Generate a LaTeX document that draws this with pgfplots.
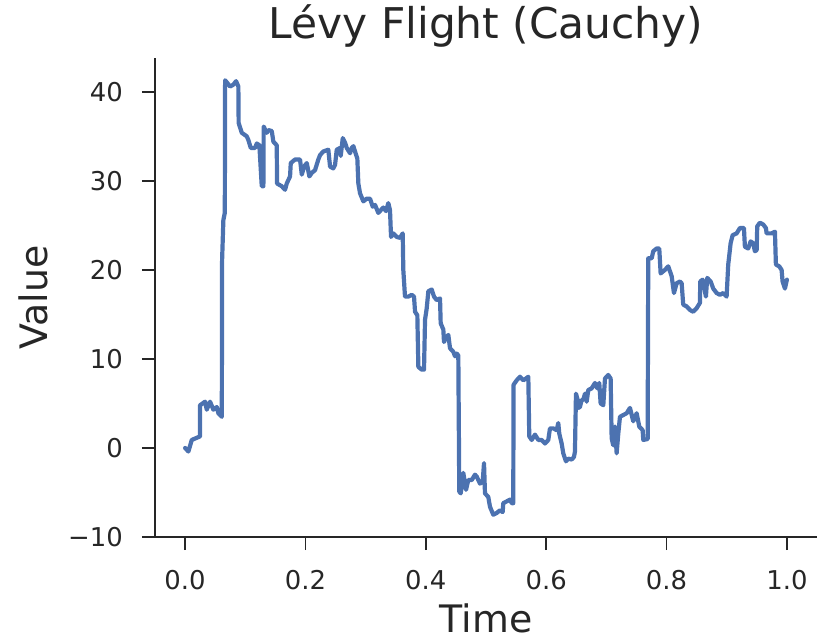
\documentclass[border=0pt]{standalone}
\usepackage{fontspec}
\setmainfont{DejaVu Sans}
\usepackage{pgfplots}
\pgfplotsset{compat=1.18}
\definecolor{sbblue}{HTML}{4C72B0}
\definecolor{txt}{HTML}{262626}
\begin{document}
\begin{tikzpicture}
\useasboundingbox (-155bp,-103bp) rectangle (666bp,537bp);
\begin{axis}[
  at={(0,0)}, anchor=south west,
  scale only axis, width=662bp, height=479bp,
  xmin=-0.05, xmax=1.05, ymin=-10, ymax=43.8,
  axis x line*=bottom, axis y line*=left,
  axis line style={-, line width=1.8bp, color=txt},
  xtick={0,0.2,0.4,0.6,0.8,1.0},
  xticklabels={0.0,0.2,0.4,0.6,0.8,1.0},
  ytick={-10,0,10,20,30,40},
  yticklabels={−10,0,10,20,30,40},
  tick align=outside, major tick length=13bp,
  tick style={line width=1.8bp, color=txt},
  minor tick num=0,
  ticklabel style={font=\fontsize{26}{30}\selectfont, text=txt, inner sep=0pt},
  xticklabel style={anchor=north, yshift=-20bp},
  yticklabel style={anchor=east, xshift=-19bp},
  title={Lévy Flight (Cauchy)},
  title style={font=\fontsize{42.5}{48}\selectfont, text=txt, inner sep=0pt, at={(axis description cs:0.5,1)}, anchor=base, yshift=14bp},
  xlabel={Time},
  xlabel style={font=\fontsize{38}{44}\selectfont, text=txt, inner sep=0pt, at={(axis description cs:0.5,0)}, anchor=base, yshift=-95bp},
  ylabel={Value},
  every axis y label/.style={font=\fontsize{38}{44}\selectfont, text=txt, inner sep=0pt, at={([xshift=-107bp]axis description cs:0,0.5)}, anchor=base, rotate=90},
  clip=false,
]
\addplot[color=sbblue, line width=4.2bp, line join=round, line cap=round] coordinates {
(0,0) (0.0055,-0.4) (0.0111,0.9) (0.0249,1.3) (0.0249,4.8) (0.0332,5.2) (0.0360,4.3) (0.0415,5.2) (0.0470,4.3) (0.0527,4.6) (0.0553,3.9) (0.0610,3.5) (0.0615,21.1) (0.0636,25.6) (0.0660,26.4) (0.0665,41.3) (0.0748,40.6) (0.0802,40.8) (0.0847,41.2) (0.0885,40.6) (0.0890,36.5) (0.0942,35.4) (0.1025,35.0) (0.1051,34.6) (0.1091,33.7) (0.1163,33.7) (0.1191,34.2) (0.1234,34.0) (0.1274,29.4) (0.1301,29.4) (0.1306,36.1) (0.1357,35.4) (0.1384,35.7) (0.1440,35.6) (0.1467,34.4) (0.1523,34.0) (0.1528,29.7) (0.1606,29.4) (0.1661,29.0) (0.1689,29.7) (0.1744,30.5) (0.1756,32.0) (0.1827,32.4) (0.1910,32.4) (0.1939,30.7) (0.1977,31.6) (0.2022,32.0) (0.2065,30.5) (0.2105,30.9) (0.2159,31.2) (0.2214,32.4) (0.2243,32.9) (0.2297,33.3) (0.2380,33.5) (0.2409,31.6) (0.2463,31.4) (0.2492,31.8) (0.2520,33.5) (0.2575,33.7) (0.2586,32.8) (0.2620,34.8) (0.2658,34.3) (0.2686,33.7) (0.2741,33.1) (0.2769,33.7) (0.2796,33.9) (0.2824,33.3) (0.2862,32.5) (0.2879,29.7) (0.2907,28.6) (0.2962,27.7) (0.3018,28.0) (0.3073,28.0) (0.3118,27.1) (0.3156,27.3) (0.3211,26.4) (0.3251,26.7) (0.3294,27.0) (0.3339,26.6) (0.3377,27.5) (0.3405,26.7) (0.3422,23.7) (0.3460,24.1) (0.3517,23.7) (0.3571,23.6) (0.3616,24.1) (0.3626,20.0) (0.3654,17.0) (0.3709,17.0) (0.3766,17.2) (0.3804,17.0) (0.3821,15.3) (0.3859,14.9) (0.3876,9.1) (0.3932,8.8) (0.3970,8.8) (0.3987,14.4) (0.4015,15.7) (0.4042,17.6) (0.4098,17.8) (0.4136,17.0) (0.4181,16.6) (0.4236,16.8) (0.4247,14.0) (0.4291,13.3) (0.4302,11.9) (0.4347,12.5) (0.4374,12.7) (0.4402,11.2) (0.4457,10.8) (0.4485,10.3) (0.4513,10.6) (0.4540,10.4) (0.4556,-4.9) (0.4580,-5.1) (0.4623,-2.8) (0.4668,-4.7) (0.4706,-3.6) (0.4763,-3.6) (0.4817,-3.0) (0.4845,-3.2) (0.4900,-4.0) (0.4945,-3.8) (0.4967,-1.7) (0.4983,-5.1) (0.5038,-5.5) (0.5066,-6.6) (0.5121,-7.5) (0.5178,-7.3) (0.5233,-7.0) (0.5277,-7.2) (0.5287,-6.2) (0.5344,-6.0) (0.5399,-5.8) (0.5427,-6.2) (0.5453,-6.2) (0.5458,7.1) (0.5510,7.6) (0.5565,8.0) (0.5620,7.6) (0.5664,7.8) (0.5703,8.0) (0.5719,1.3) (0.5759,0.9) (0.5814,1.5) (0.5869,0.9) (0.5925,0.9) (0.5980,0.5) (0.6035,0.9) (0.6063,2.2) (0.6118,2.2) (0.6174,2.0) (0.6201,2.8) (0.6218,1.6) (0.6257,0.5) (0.6284,-0.6) (0.6329,-1.5) (0.6367,-1.2) (0.6424,-1.3) (0.6462,-1.0) (0.6478,-0.4) (0.6495,6.1) (0.6523,5.4) (0.6533,4.5) (0.6561,4.6) (0.6590,5.4) (0.6616,5.4) (0.6645,6.1) (0.6673,5.2) (0.6699,6.5) (0.6756,6.7) (0.6811,7.3) (0.6849,6.7) (0.6882,7.3) (0.6905,5.0) (0.6949,4.8) (0.6977,7.8) (0.7031,8.2) (0.7071,7.8) (0.7088,1.1) (0.7114,0.3) (0.7143,2.4) (0.7171,-0.6) (0.7198,1.6) (0.7226,3.5) (0.7281,3.7) (0.7337,3.9) (0.7392,4.5) (0.7447,3.0) (0.7503,3.9) (0.7547,2.4) (0.7603,2.0) (0.7613,0.9) (0.7686,1.0) (0.7696,21.3) (0.7753,21.3) (0.7779,22.1) (0.7835,22.4) (0.7879,22.4) (0.7902,19.6) (0.7973,20.0) (0.8028,20.4) (0.8085,19.3) (0.8123,17.4) (0.8168,18.5) (0.8223,18.7) (0.8251,18.5) (0.8277,16.1) (0.8334,15.9) (0.8389,15.5) (0.8443,15.3) (0.8500,15.7) (0.8555,16.3) (0.8560,18.7) (0.8600,18.9) (0.8654,17.0) (0.8676,19.1) (0.8733,18.7) (0.8776,17.9) (0.8832,17.4) (0.8887,17.2) (0.8942,17.4) (0.8998,17.0) (0.9025,20.6) (0.9065,23.0) (0.9098,23.9) (0.9164,24.1) (0.9219,24.7) (0.9286,24.7) (0.9302,22.6) (0.9357,22.4) (0.9397,23.2) (0.9440,23.0) (0.9468,22.1) (0.9497,22.2) (0.9507,24.9) (0.9551,25.3) (0.9606,25.1) (0.9651,24.7) (0.9663,24.1) (0.9746,24.1) (0.9801,24.3) (0.9817,20.6) (0.9872,20.4) (0.9912,20.0) (0.9928,18.7) (0.9967,17.9) (1.0000,18.9)
};
\end{axis}
\end{tikzpicture}
\end{document}
